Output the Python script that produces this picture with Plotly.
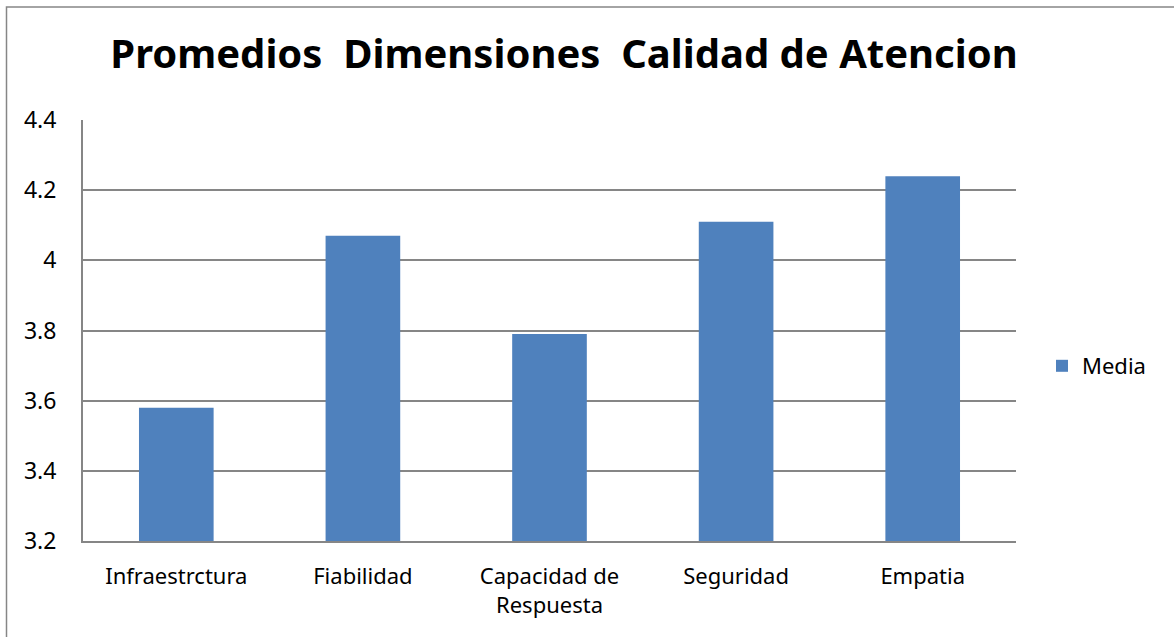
import plotly.graph_objects as go

categories = ["Infraestrctura", "Fiabilidad", "Capacidad de<br>Respuesta", "Seguridad", "Empatia"]
media = [3.58, 4.07, 3.79, 4.11, 4.24]
y_ticks = [3.2, 3.4, 3.6, 3.8, 4.0, 4.2, 4.4]
y_tick_text = ["3.2", "3.4", "3.6", "3.8", "4", "4.2", "4.4"]

W, H = 1174, 637
L, R, T, B = 83, 1016, 120, 541
FONT = "'Noto Sans', 'Open Sans', sans-serif"

fig = go.Figure()
fig.add_trace(go.Bar(x=categories, y=media, name="Media", marker_color="#4F81BD",
                     marker_line_width=0))

pw, ph = R - L, B - T
def px2x(p): return (p - L) / pw
def px2y(p): return (B - p) / ph

fig.update_layout(
    width=W, height=H,
    margin=dict(l=L, r=W - R, t=T, b=H - B, pad=0),
    paper_bgcolor="white", plot_bgcolor="white",
    font=dict(family=FONT, size=22, color="#000000"),
    title=dict(text="Promedios\u00a0\u00a0Dimensiones\u00a0\u00a0Calidad de Atencion",
               font=dict(family=FONT, size=40, color="#000000", weight="bold"),
               x=px2x(564), xanchor="center", xref="paper", y=1 - 54 / H, yanchor="middle"),
    bargap=0.6,
    showlegend=True,
    legend=dict(x=px2x(1042), y=px2y(366), xanchor="left", yanchor="middle",
                font=dict(size=22), bgcolor="rgba(0,0,0,0)"),
    xaxis=dict(showline=True, linecolor="#868686", linewidth=2, showgrid=False,
               ticks="", tickfont=dict(size=22), ticklabelstandoff=15),
    yaxis=dict(range=[3.2, 4.4], tickvals=y_ticks, ticktext=y_tick_text,
               showline=True, linecolor="#868686", linewidth=2,
               showgrid=True, gridcolor="#868686", gridwidth=2,
               ticks="", tickfont=dict(size=23), ticklabelstandoff=20, zeroline=False),
)
# outer chart border
fig.add_shape(type="rect", xref="paper", yref="paper",
              x0=px2x(6.5), x1=px2x(1200), y0=px2y(700), y1=px2y(7),
              line=dict(color="#868686", width=1.5), fillcolor="rgba(0,0,0,0)", layer="below")

fig.write_html("out.html", config={"displayModeBar": False},
               post_script="document.body.style.margin='0px';")
